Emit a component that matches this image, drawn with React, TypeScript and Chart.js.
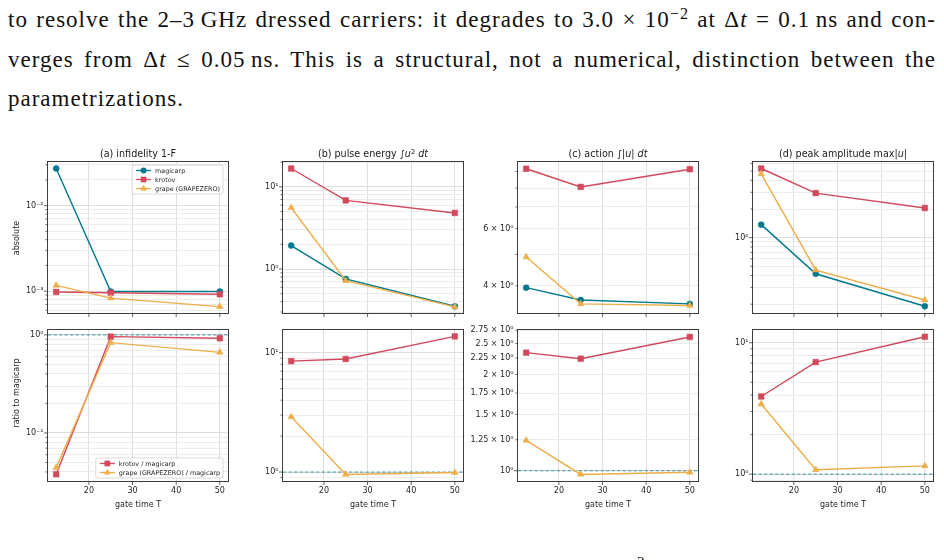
import React, { useEffect, useRef } from "react";
import { Chart, registerables } from "chart.js";

Chart.register(...registerables);
Chart.defaults.font.family = '"DejaVu Sans", sans-serif';

// ---- data -----------------------------------------------------------------
const GATE_TIMES = [12.5, 25, 50];
const X_TICK_VALUES = [20, 30, 40, 50];

const INFIDELITY_MAGICARP = [0.0272, 0.00099, 0.00099];
const INFIDELITY_KROTOV = [0.00098, 0.00096, 0.00092];
const INFIDELITY_GRAPE = [0.00117, 0.00083, 0.00066];
const INFIDELITY_RATIO_KROTOV = [0.0379, 0.96, 0.925];
const INFIDELITY_RATIO_GRAPE = [0.0443, 0.834, 0.664];

const ENERGY_MAGICARP = [1.93, 0.757, 0.352];
const ENERGY_KROTOV = [16.7, 6.84, 4.81];
const ENERGY_GRAPE = [5.57, 0.72, 0.347];
const ENERGY_RATIO_KROTOV = [8.5, 8.85, 13.7];
const ENERGY_RATIO_GRAPE = [2.9, 0.955, 0.99];

const ACTION_MAGICARP = [3.95, 3.62, 3.52];
const ACTION_KROTOV = [9.18, 8.07, 9.15];
const ACTION_GRAPE = [4.91, 3.52, 3.48];
const ACTION_RATIO_KROTOV = [2.34, 2.24, 2.62];
const ACTION_RATIO_GRAPE = [1.245, 0.974, 0.989];

const PEAK_MAGICARP = [1.37, 0.417, 0.19];
const PEAK_KROTOV = [5.33, 2.94, 2.05];
const PEAK_GRAPE = [4.68, 0.456, 0.221];
const PEAK_RATIO_KROTOV = [3.9, 7.13, 11.1];
const PEAK_RATIO_GRAPE = [3.42, 1.08, 1.156];

const REFERENCE_RATIO = 1;

// tick labels (value, text)
const INFIDELITY_ABS_LABELS: [number, string][] = [[1e-3, "10⁻³"], [1e-2, "10⁻²"]];
const INFIDELITY_RATIO_LABELS: [number, string][] = [[1e-1, "10⁻¹"], [1, "10⁰"]];
const ENERGY_ABS_LABELS: [number, string][] = [[1, "10⁰"], [10, "10¹"]];
const ENERGY_RATIO_LABELS: [number, string][] = [[1, "10⁰"], [10, "10¹"]];
const ACTION_ABS_LABELS: [number, string][] = [[4, "4 × 10⁰"], [6, "6 × 10⁰"]];
const ACTION_RATIO_LABELS: [number, string][] = [
  [1, "10⁰"], [1.25, "1.25 × 10⁰"], [1.5, "1.5 × 10⁰"], [1.75, "1.75 × 10⁰"],
  [2, "2 × 10⁰"], [2.25, "2.25 × 10⁰"], [2.5, "2.5 × 10⁰"], [2.75, "2.75 × 10⁰"],
];
const PEAK_ABS_LABELS: [number, string][] = [[1, "10⁰"]];
const PEAK_RATIO_LABELS: [number, string][] = [[1, "10⁰"], [10, "10¹"]];

// ---- styling --------------------------------------------------------------
const MAGICARP_COLOR = "#00798c";
const KROTOV_COLOR = "#d1495b";
const GRAPE_COLOR = "#edae49";
const REF_COLOR = "rgba(0,121,140,0.75)";
const FRAME_COLOR = "#3d3d3d";
const GRID_MAJOR = "#dedede";
const GRID_MINOR = "#ececec";
const TEXT_COLOR = "#262626";

const PLOT_W = 180;
const PLOT_H = 151;
const COLUMN_LEFTS = [48, 283, 518, 753];
const ROW_TOPS = [162, 330];
const Y_AXIS_W = 52;
const PAD_TOP = 10;
const PAD_RIGHT = 8;
const X_AXIS_H = [10, 32];
const X_MIN = 10.625;
const X_MAX = 51.875;

type TickDef = { value: number; mj: boolean; lbl?: string };
type Series = { label: string; values: number[]; color: string; marker: string; radius: number };
type PanelSpec = {
  key: string;
  col: number;
  row: number;
  logRange: [number, number];
  ticks: TickDef[];
  series: Series[];
  legend?: "upper right" | "lower right";
  reference?: boolean;
};

function findLabel(v: number, labels: [number, string][]) {
  const hit = labels.find(([lv]) => Math.abs(Math.log10(lv) - Math.log10(v)) < 1e-6);
  return hit ? hit[1] : undefined;
}

// 1..9 x 10^k ticks inside the log10 range
function decadeTicks(range: [number, number], labels: [number, string][]): TickDef[] {
  const out: TickDef[] = [];
  for (let e = Math.floor(range[0]); e <= Math.ceil(range[1]); e++) {
    for (let m = 1; m <= 9; m++) {
      const v = m * Math.pow(10, e);
      const lv = Math.log10(v);
      if (lv < range[0] - 1e-9 || lv > range[1] + 1e-9) continue;
      out.push({ value: v, mj: m === 1, lbl: findLabel(v, labels) });
    }
  }
  return out;
}

function listTicks(labels: [number, string][]): TickDef[] {
  return labels.map(([v, t]) => ({ value: v, mj: Math.abs(Math.log10(v) % 1) < 1e-9, lbl: t }));
}

const magicarp = (values: number[]): Series => ({ label: "magicarp", values, color: MAGICARP_COLOR, marker: "circle", radius: 3 });
const krotov = (values: number[], label = "krotov"): Series => ({ label, values, color: KROTOV_COLOR, marker: "rect", radius: 4 });
const grape = (values: number[], label = "grape (GRAPEZERO)"): Series => ({ label, values, color: GRAPE_COLOR, marker: "triangle", radius: 3.8 });

const R_A0: [number, number] = [-3.255, -1.49];
const R_A1: [number, number] = [-1.49, 0.05];
const R_B0: [number, number] = [-0.535, 1.302];
const R_B1: [number, number] = [-0.075, 1.19];
const R_C0: [number, number] = [0.522, 0.9836];
const R_C1: [number, number] = [-0.032, 0.44];
const R_D0: [number, number] = [-0.792, 0.795];
const R_D1: [number, number] = [-0.052, 1.097];

const PANELS: PanelSpec[] = [
  {
    key: "a0", col: 0, row: 0, logRange: R_A0, ticks: decadeTicks(R_A0, INFIDELITY_ABS_LABELS),
    series: [magicarp(INFIDELITY_MAGICARP), krotov(INFIDELITY_KROTOV), grape(INFIDELITY_GRAPE)],
    legend: "upper right",
  },
  {
    key: "a1", col: 0, row: 1, logRange: R_A1, ticks: decadeTicks(R_A1, INFIDELITY_RATIO_LABELS),
    series: [krotov(INFIDELITY_RATIO_KROTOV, "krotov / magicarp"), grape(INFIDELITY_RATIO_GRAPE, "grape (GRAPEZERO) / magicarp")],
    legend: "lower right", reference: true,
  },
  {
    key: "b0", col: 1, row: 0, logRange: R_B0, ticks: decadeTicks(R_B0, ENERGY_ABS_LABELS),
    series: [magicarp(ENERGY_MAGICARP), krotov(ENERGY_KROTOV), grape(ENERGY_GRAPE)],
  },
  {
    key: "b1", col: 1, row: 1, logRange: R_B1, ticks: decadeTicks(R_B1, ENERGY_RATIO_LABELS),
    series: [krotov(ENERGY_RATIO_KROTOV, "krotov / magicarp"), grape(ENERGY_RATIO_GRAPE, "grape (GRAPEZERO) / magicarp")],
    reference: true,
  },
  {
    key: "c0", col: 2, row: 0, logRange: R_C0, ticks: decadeTicks(R_C0, ACTION_ABS_LABELS),
    series: [magicarp(ACTION_MAGICARP), krotov(ACTION_KROTOV), grape(ACTION_GRAPE)],
  },
  {
    key: "c1", col: 2, row: 1, logRange: R_C1, ticks: listTicks(ACTION_RATIO_LABELS),
    series: [krotov(ACTION_RATIO_KROTOV, "krotov / magicarp"), grape(ACTION_RATIO_GRAPE, "grape (GRAPEZERO) / magicarp")],
    reference: true,
  },
  {
    key: "d0", col: 3, row: 0, logRange: R_D0, ticks: decadeTicks(R_D0, PEAK_ABS_LABELS),
    series: [magicarp(PEAK_MAGICARP), krotov(PEAK_KROTOV), grape(PEAK_GRAPE)],
  },
  {
    key: "d1", col: 3, row: 1, logRange: R_D1, ticks: decadeTicks(R_D1, PEAK_RATIO_LABELS),
    series: [krotov(PEAK_RATIO_KROTOV, "krotov / magicarp"), grape(PEAK_RATIO_GRAPE, "grape (GRAPEZERO) / magicarp")],
    reference: true,
  },
];

// ---- drawing helpers ------------------------------------------------------
function drawMarker(ctx: CanvasRenderingContext2D, style: string, x: number, y: number, r: number, color: string) {
  ctx.fillStyle = color;
  ctx.beginPath();
  if (style === "circle") {
    ctx.arc(x, y, r, 0, Math.PI * 2);
  } else if (style === "rect") {
    const s = Math.SQRT1_2 * r;
    ctx.rect(x - s, y - s, 2 * s, 2 * s);
  } else {
    let a = 0;
    ctx.moveTo(x + Math.sin(a) * r, y - Math.cos(a) * r);
    a += (2 * Math.PI) / 3;
    ctx.lineTo(x + Math.sin(a) * r, y - Math.cos(a) * r);
    a += (2 * Math.PI) / 3;
    ctx.lineTo(x + Math.sin(a) * r, y - Math.cos(a) * r);
    ctx.closePath();
  }
  ctx.fill();
}

function drawLegend(chart: any, where: string) {
  const { ctx, chartArea: ca } = chart;
  const items = chart.data.datasets as any[];
  ctx.font = '6.4px "DejaVu Sans"';
  const textW = Math.max(...items.map((d) => ctx.measureText(d.label).width));
  const padL = 4, handle = 15, gap = 4, padR = 3, rowH = 9, padY = 5.5;
  const w = padL + handle + gap + textW + padR;
  const h = padY * 2 + (items.length - 1) * rowH;
  const x0 = ca.right - 5 - w;
  const y0 = where === "upper right" ? ca.top + 3 : ca.bottom - 3 - h;
  ctx.fillStyle = "rgba(255,255,255,0.85)";
  ctx.strokeStyle = "#cfcfcf";
  ctx.lineWidth = 0.8;
  ctx.beginPath();
  (ctx as any).roundRect(x0, y0, w, h, 2);
  ctx.fill();
  ctx.stroke();
  items.forEach((d, i) => {
    const cy = y0 + padY + i * rowH;
    ctx.strokeStyle = d.borderColor;
    ctx.lineWidth = 1.3;
    ctx.beginPath();
    ctx.moveTo(x0 + padL, cy);
    ctx.lineTo(x0 + padL + handle, cy);
    ctx.stroke();
    drawMarker(ctx, d.pointStyle, x0 + padL + handle / 2, cy, d.pointRadius, d.borderColor);
    ctx.fillStyle = TEXT_COLOR;
    ctx.textAlign = "left";
    ctx.textBaseline = "middle";
    ctx.fillText(d.label, x0 + padL + handle + gap, cy + 0.5);
  });
}

const panelDecor = {
  id: "panelDecor",
  beforeDatasetsDraw(chart: any, _args: any, opts: any) {
    if (!opts.reference) return;
    const { ctx, chartArea: ca } = chart;
    const y = chart.scales.y.getPixelForValue(REFERENCE_RATIO);
    ctx.save();
    ctx.beginPath();
    ctx.rect(ca.left, ca.top, ca.width, ca.height);
    ctx.clip();
    ctx.strokeStyle = REF_COLOR;
    ctx.lineWidth = 1;
    ctx.setLineDash([3.5, 2]);
    ctx.beginPath();
    ctx.moveTo(ca.left, y);
    ctx.lineTo(ca.right, y);
    ctx.stroke();
    ctx.restore();
  },
  afterDraw(chart: any, _args: any, opts: any) {
    const { ctx, chartArea: ca } = chart;
    ctx.save();
    const l = Math.round(ca.left) - 0.5;
    const t = Math.round(ca.top) - 0.5;
    const r = Math.round(ca.right) + 0.5;
    const b = Math.round(ca.bottom) + 0.5;
    ctx.strokeStyle = FRAME_COLOR;
    ctx.lineWidth = 1;
    ctx.strokeRect(l, t, r - l, b - t);
    ctx.lineWidth = 0.8;
    const ys = chart.scales.y;
    for (const tk of ys.ticks) {
      const y = ys.getPixelForValue(tk.value);
      const len = tk.mj ? 3.5 : 2;
      ctx.beginPath();
      ctx.moveTo(l - len, y);
      ctx.lineTo(l, y);
      ctx.stroke();
    }
    const xs = chart.scales.x;
    for (const tk of xs.ticks) {
      const x = xs.getPixelForValue(tk.value);
      ctx.beginPath();
      ctx.moveTo(x, b);
      ctx.lineTo(x, b + 3.5);
      ctx.stroke();
    }
    if (opts.legend) drawLegend(chart, opts.legend);
    ctx.restore();
  },
};

function Panel({ spec }: { spec: PanelSpec }) {
  const ref = useRef<HTMLCanvasElement>(null);
  const width = Y_AXIS_W + PLOT_W + PAD_RIGHT;
  const xAxisH = X_AXIS_H[spec.row];
  const height = PAD_TOP + PLOT_H + xAxisH;
  const bottomRow = spec.row === 1;

  useEffect(() => {
    const n = spec.series.length;
    const chart = new Chart(ref.current as HTMLCanvasElement, {
      type: "line",
      data: {
        datasets: spec.series.map((s, i) => ({
          label: s.label,
          data: GATE_TIMES.map((t, j) => ({ x: t, y: s.values[j] })),
          borderColor: s.color,
          backgroundColor: s.color,
          borderWidth: 1.4,
          pointStyle: s.marker as any,
          pointRadius: s.radius,
          pointHoverRadius: s.radius,
          pointBackgroundColor: s.color,
          pointBorderColor: s.color,
          pointBorderWidth: 0.5,
          tension: 0,
          fill: false,
          order: n - i,
        })),
      },
      options: {
        responsive: false,
        animation: false,
        events: [],
        layout: { padding: { top: PAD_TOP, right: PAD_RIGHT, left: 0, bottom: 0 } },
        plugins: {
          legend: { display: false },
          tooltip: { enabled: false },
          title: { display: false },
          panelDecor: { legend: spec.legend, reference: !!spec.reference },
        } as any,
        scales: {
          x: {
            type: "linear",
            min: X_MIN,
            max: X_MAX,
            bounds: "data",
            afterBuildTicks: (s: any) => {
              s.ticks = X_TICK_VALUES.map((v) => ({ value: v, mj: true }));
            },
            afterFit: (s: any) => {
              s.height = xAxisH;
            },
            grid: { color: GRID_MAJOR, lineWidth: 1, drawTicks: false },
            border: { display: false },
            ticks: {
              display: bottomRow,
              autoSkip: false,
              maxRotation: 0,
              padding: 5,
              color: TEXT_COLOR,
              font: { size: 8 },
              callback: (v: any) => String(v),
            },
            title: {
              display: bottomRow,
              text: "gate time T",
              color: TEXT_COLOR,
              font: { size: 8 },
              padding: { top: 0, bottom: 3.5 },
            },
          },
          y: {
            type: "logarithmic",
            min: Math.pow(10, spec.logRange[0]),
            max: Math.pow(10, spec.logRange[1]),
            afterBuildTicks: (s: any) => {
              s.ticks = spec.ticks.map((t) => ({ value: t.value, mj: t.mj, lbl: t.lbl }));
            },
            afterFit: (s: any) => {
              s.width = Y_AXIS_W;
            },
            grid: {
              color: (c: any) => (c.tick && c.tick.mj ? GRID_MAJOR : GRID_MINOR),
              lineWidth: 1,
              drawTicks: false,
            },
            border: { display: false },
            ticks: {
              autoSkip: false,
              padding: 4.5,
              color: TEXT_COLOR,
              font: { size: 8 },
              callback: (_v: any, i: number, ticks: any[]) => (ticks[i] && ticks[i].lbl) || "",
            },
          },
        } as any,
      },
      plugins: [panelDecor as any],
    });
    return () => chart.destroy();
  }, [spec]);

  return (
    <canvas
      ref={ref}
      width={width}
      height={height}
      style={{
        position: "absolute",
        left: COLUMN_LEFTS[spec.col] - Y_AXIS_W,
        top: ROW_TOPS[spec.row] - PAD_TOP,
        width,
        height,
      }}
    />
  );
}

const TITLE_STYLE: React.CSSProperties = {
  position: "absolute",
  top: 148,
  width: PLOT_W,
  height: 12,
  lineHeight: "12px",
  textAlign: "center",
  fontFamily: '"DejaVu Sans", sans-serif',
  fontSize: 9.6,
  color: "#1a1a1a",
  whiteSpace: "nowrap",
};

const SUP_STYLE: React.CSSProperties = { fontSize: "0.7em", verticalAlign: "0.45em", lineHeight: 0 };

const YTITLE_STYLE: React.CSSProperties = {
  position: "absolute",
  left: 15.5,
  transform: "translate(-50%, -50%) rotate(-90deg)",
  fontFamily: '"DejaVu Sans", sans-serif',
  fontSize: 8,
  color: TEXT_COLOR,
  whiteSpace: "nowrap",
};

const TEXT_LINE: React.CSSProperties = {
  position: "absolute",
  left: 8,
  width: 928,
  height: 26,
  lineHeight: "26px",
  fontFamily: '"Liberation Serif", "Times New Roman", serif',
  fontSize: 23,
  letterSpacing: "1px",
  color: "#111",
};

const JUSTIFIED: React.CSSProperties = { ...TEXT_LINE, textAlign: "justify", textAlignLast: "justify" as any };
const TEXT_SUP: React.CSSProperties = { fontSize: "0.7em", verticalAlign: "0.5em", lineHeight: 0 };

export default function App() {
  return (
    <div
      style={{
        position: "fixed",
        left: 0,
        top: 0,
        width: 944,
        height: 560,
        background: "#fff",
        overflow: "hidden",
      }}
    >
      <div style={{ ...JUSTIFIED, top: 7 }}>
        to resolve the 2–3&#8201;GHz dressed carriers: it degrades to 3.0 × 10<span style={TEXT_SUP}>−2</span> at Δ<i>t</i> = 0.1&#8201;ns and con-
      </div>
      <div style={{ ...JUSTIFIED, top: 46.5 }}>
        verges from Δ<i>t</i> ≤ 0.05&#8201;ns. This is a structural, not a numerical, distinction between the
      </div>
      <div style={{ ...TEXT_LINE, top: 86 }}>parametrizations.</div>

      {PANELS.map((p) => (
        <Panel key={p.key} spec={p} />
      ))}

      <div style={{ ...TITLE_STYLE, left: COLUMN_LEFTS[0] }}>(a) infidelity 1-F</div>
      <div style={{ ...TITLE_STYLE, left: COLUMN_LEFTS[1] }}>
        (b) pulse energy ∫<i>u</i>
        <span style={SUP_STYLE}>2</span> <i>dt</i>
      </div>
      <div style={{ ...TITLE_STYLE, left: COLUMN_LEFTS[2] }}>
        (c) action ∫|<i>u</i>| <i>dt</i>
      </div>
      <div style={{ ...TITLE_STYLE, left: COLUMN_LEFTS[3] }}>
        (d) peak amplitude max|<i>u</i>|
      </div>

      <div style={{ ...YTITLE_STYLE, top: 237.5 }}>absolute</div>
      <div style={{ ...YTITLE_STYLE, top: 393 }}>ratio to magicarp</div>

      <div
        style={{
          position: "absolute",
          left: 637,
          top: 555,
          fontFamily: '"Liberation Serif", serif',
          fontSize: 15,
          lineHeight: "15px",
          color: "#111",
        }}
      >
        2
      </div>
    </div>
  );
}
